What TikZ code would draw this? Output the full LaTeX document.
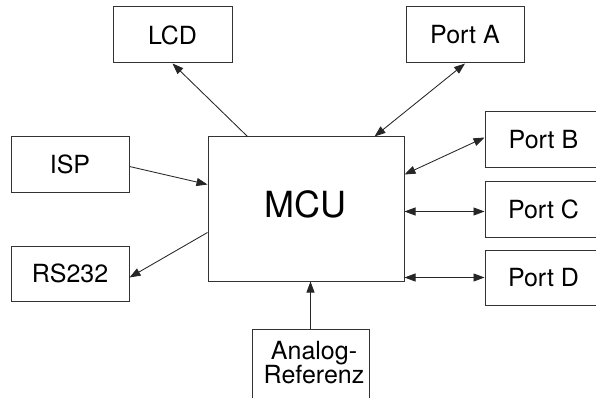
\documentclass[tikz,border=0pt]{standalone}
\usepackage{fontspec}
\setmainfont{TeX Gyre Heros}
\usetikzlibrary{arrows.meta,calc}
\begin{document}
\begin{tikzpicture}[x=1pt,y=1pt,
  box/.style={draw=black!80, line width=1pt, inner sep=0pt,
    font=\fontsize{25}{29}\selectfont, text=black},
  big/.style={font=\fontsize{36}{40}\selectfont, text=black, inner sep=0pt},
  lbl/.style={font=\fontsize{25}{23.5}\selectfont, text=black, inner sep=0pt, align=center},
  conn/.style={line width=0.85pt, draw=black!85, -{Triangle[length=11pt,width=8pt]}},
  dconn/.style={line width=0.85pt, draw=black!85, {Triangle[length=11pt,width=8pt]}-{Triangle[length=11pt,width=8pt]}}]
\useasboundingbox (0,0) rectangle (596,-398);
\clip (0,0) rectangle (596,-398);
\fill[white] (0,0) rectangle (596,-398);
% boxes
\node[box, minimum width=196, minimum height=144] (mcu) at (306,-209) {};
\node[big] (mcut) at (305.5,-204) {MCU};
\node[box, minimum width=119, minimum height=56] (lcd) at (172.5,-35) {LCD};
\node[box, minimum width=118, minimum height=56] (porta) at (465,-35) {Port A};
\node[box, minimum width=117, minimum height=55] (portb) at (543.5,-139.5) {Port B};
\node[box, minimum width=117, minimum height=56] (portc) at (543.5,-209) {Port C};
\node[box, minimum width=117, minimum height=55] (portd) at (543.5,-277.5) {Port D};
\node[box, minimum width=118, minimum height=55] (isp) at (70,-164.5) {ISP};
\node[box, minimum width=118, minimum height=55] (rs) at (70,-273.5) {RS232};
\node[box, minimum width=117, minimum height=91] (ana) at (310.5,-374.5) {};
\node[lbl] (anat) at (314,-362.5) {Analog-\\Referenz};
% connectors
\coordinate (mcuLCD) at ($(mcu.north west)+(40,0)$);
\coordinate (mcuPA) at ($(mcu.north west)+(167,0)$);
\coordinate (mcuPB) at ($(mcu.north east)+(0,-38)$);
\coordinate (mcuPC) at ($(mcu.north east)+(0,-75)$);
\coordinate (pcW) at ($(portc.north west)+(0,-31)$);
\coordinate (mcuISP) at ($(mcu.north west)+(0,-48)$);
\coordinate (ispE) at ($(isp.north east)+(0,-30)$);
\coordinate (mcuRS) at ($(mcu.north west)+(0,-96)$);
\coordinate (rsE) at ($(rs.north east)+(0,-32)$);
\coordinate (pbW) at ($(portb.north west)+(0,-26)$);
\coordinate (lcdS) at ($(lcd.south west)+(60,0)$);
\coordinate (anaN) at ($(ana.north west)+(59,0)$);
\coordinate (mcuAN) at ($(mcu.south west)+(103,0)$);
\draw[conn] (mcuLCD) -- (lcdS);
\draw[dconn] (mcuPA) -- (porta.south);
\draw[dconn] (mcuPB) -- (pbW);
\draw[dconn] (mcuPC) -- (pcW);
\draw[dconn] (mcu.east |- portd.west) -- (portd.west);
\draw[conn] (ispE) -- (mcuISP);
\draw[conn] (mcuRS) -- (rsE);
\draw[conn] (anaN) -- (mcuAN);
\end{tikzpicture}
\end{document}
